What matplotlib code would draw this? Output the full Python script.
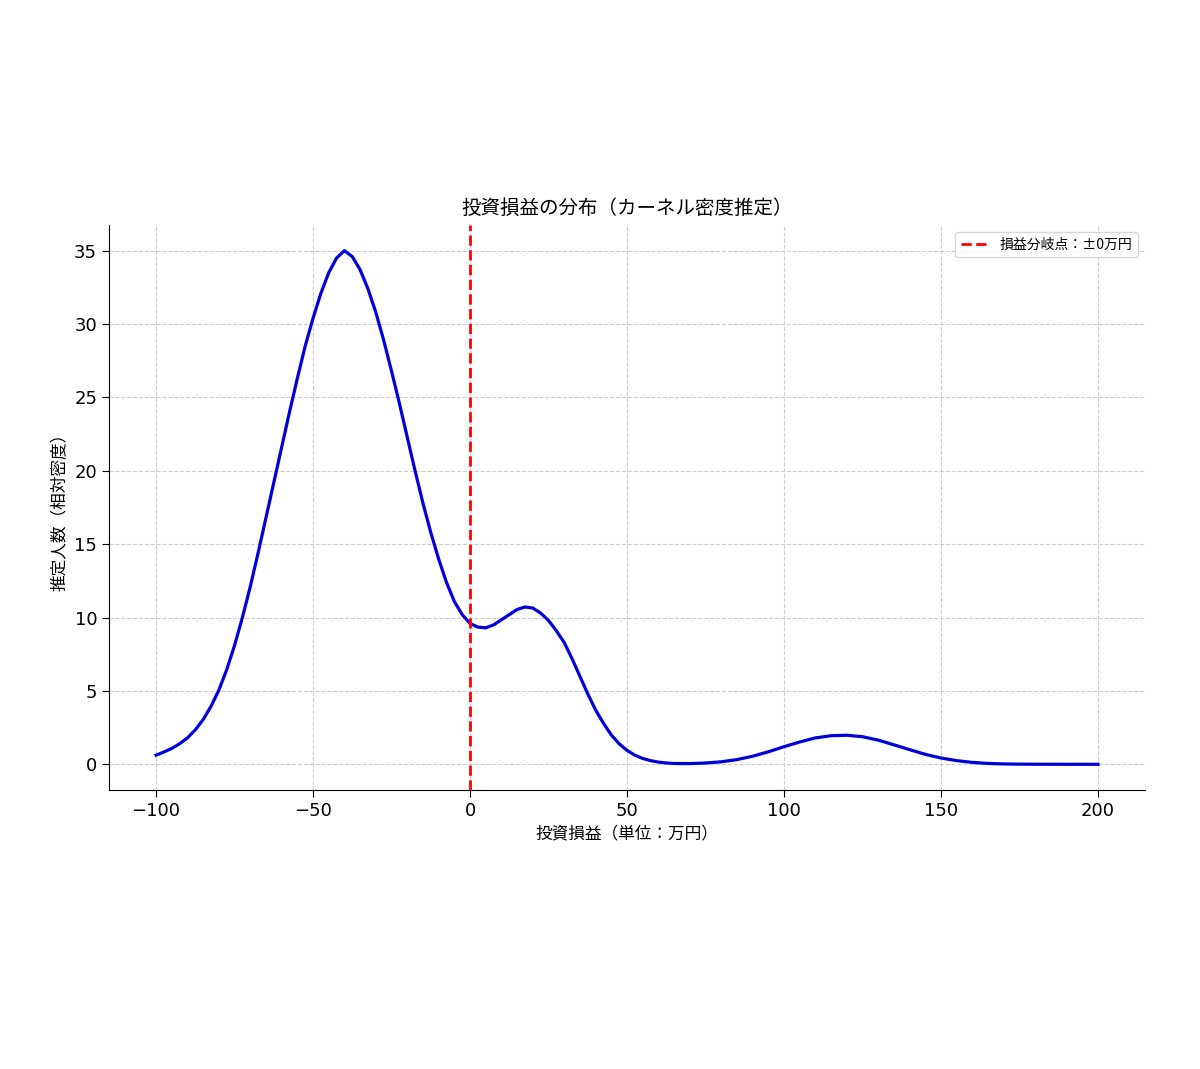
import matplotlib
matplotlib.use('Agg')
import matplotlib.pyplot as plt

# --- データ ---
profit_x = [-100, -97.5, -95, -92.5, -90, -87.5, -85, -82.5, -80, -77.5, -75, -72.5,
            -70, -67.5, -65, -62.5, -60, -57.5, -55, -52.5, -50, -47.5, -45, -42.5,
            -40, -37.5, -35, -32.5, -30, -27.5, -25, -22.5, -20, -17.5, -15, -12.5,
            -10, -7.5, -5, -2.5, 0, 2.5, 5, 7.5, 10, 12.5, 15, 17.5, 20, 22.5,
            25, 27.5, 30, 32.5, 35, 37.5, 40, 42.5, 45, 47.5, 50, 52.5, 55, 57.5,
            60, 62.5, 65, 67.5, 70, 75, 80, 85, 90, 95, 100,
            105, 110, 115, 120, 125, 130, 135, 140, 145, 150, 155, 160, 165, 170,
            175, 180, 185, 190, 195, 200]
density_y = [0.62, 0.84, 1.08, 1.4, 1.8, 2.35, 3.05, 3.95, 5.05, 6.45, 8.1, 10.0,
             12.1, 14.4, 16.8, 19.2, 21.6, 24.0, 26.3, 28.5, 30.4, 32.1, 33.5, 34.5,
             35.0, 34.6, 33.7, 32.4, 30.8, 28.9, 26.8, 24.6, 22.3, 20.0, 17.8, 15.8,
             14.0, 12.4, 11.1, 10.2, 9.6, 9.35, 9.3, 9.5, 9.85, 10.2, 10.55, 10.72, 10.65, 10.3,
             9.8, 9.1, 8.3, 7.2, 6.0, 4.8, 3.7, 2.8, 2.0, 1.4, 0.95, 0.62, 0.4, 0.25,
             0.15, 0.09, 0.06, 0.05, 0.05, 0.09, 0.17, 0.32, 0.55, 0.85, 1.2,
             1.52, 1.8, 1.95, 1.98, 1.88, 1.65, 1.33, 1.0, 0.68, 0.43, 0.25, 0.13, 0.06, 0.025,
             0.01, 0.005, 0.002, 0.001, 0.0, 0.0]
breakeven_x = 0

TITLE = '投資損益の分布（カーネル密度推定）'
XLABEL = '投資損益（単位：万円）'
YLABEL = '推定人数（相対密度）'
LEGEND_LABEL = '損益分岐点：±0万円'

JP_FONT = ['Noto Sans CJK JP', 'DejaVu Sans']

fig = plt.figure(figsize=(12, 10.69), dpi=100)
ax = fig.add_axes([0.0908, 0.261, 0.8634, 0.5285])

ax.plot(profit_x, density_y, color='#0000dd', linewidth=2.3)
ax.axvline(breakeven_x, color='red', linestyle='--', linewidth=2, label=LEGEND_LABEL)

ax.set_title(TITLE, fontsize=14, family=JP_FONT, pad=8)
ax.set_xlabel(XLABEL, fontsize=12, family=JP_FONT)
ax.set_ylabel(YLABEL, fontsize=12, family=JP_FONT)

ax.tick_params(labelsize=13, length=5)
ax.grid(True, linestyle='--', color='#cccccc', linewidth=0.8)
ax.spines['top'].set_visible(False)
ax.spines['right'].set_visible(False)
ax.set_xticks([-100, -50, 0, 50, 100, 150, 200])
ax.set_yticks([0, 5, 10, 15, 20, 25, 30, 35])

ax.legend(loc='upper right', prop={'family': JP_FONT, 'size': 10})

fig.savefig('out.png', dpi=100)
